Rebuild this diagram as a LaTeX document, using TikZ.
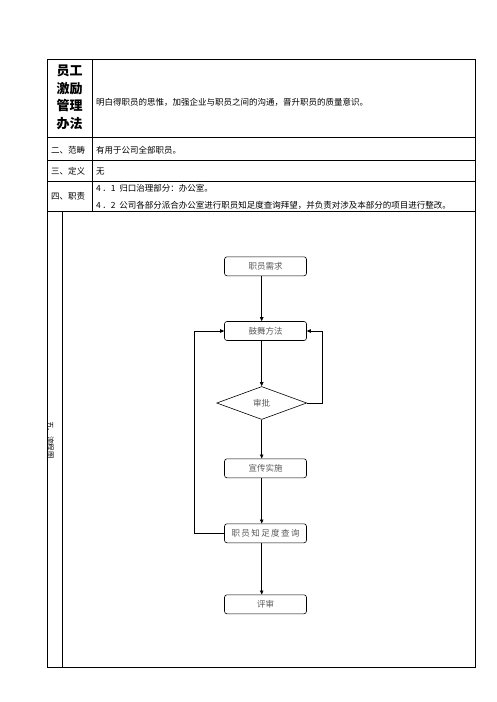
\documentclass[tikz,border=0pt]{standalone}
\usepackage{fontspec}
\setmainfont{Noto Sans CJK SC}
\newfontfamily\cjk{Noto Sans CJK SC}
\usetikzlibrary{shapes.geometric}
\usetikzlibrary{arrows.meta}

\tikzset{
  grid line/.style={line width=0.8pt},
  cell text/.style={anchor=west, inner sep=0pt, font=\cjk\fontsize{8.5pt}{10pt}\selectfont},
  head text/.style={inner sep=0pt, font=\cjk\fontsize{8.5pt}{10pt}\selectfont},
  flow box/.style={draw, line width=0.6pt, rounded corners=2.5pt, minimum width=82pt, minimum height=19pt,
    inner sep=0pt, text=black!65, font=\cjk\fontsize{8.5pt}{10pt}\selectfont},
  flow check/.style={draw, line width=0.6pt, diamond, minimum width=90pt, minimum height=33pt,
    inner sep=0pt, text=black!65, font=\cjk\fontsize{8.5pt}{10pt}\selectfont},
  flow arrow/.style={line width=0.6pt, -{Triangle[length=4pt,width=3.5pt]}}
}

\begin{document}
\begin{tikzpicture}[x=1pt, y=-1pt]

 % page size
 \useasboundingbox (0,0) rectangle (496,702);

 % outer frame and rows of the table
 \draw [grid line] (47,59) rectangle (475,667);
 \draw [grid line] (47,137) -- (475,137);
 \draw [grid line] (47,160) -- (475,160);
 \draw [grid line] (47,181) -- (475,181);
 \draw [grid line] (47,211) -- (475,211);

 % column dividers
 \draw [grid line] (92,59) -- (92,211);
 \draw [grid line] (62,211) -- (62,667);

 % title cell
 \node (title) [align=center, inner sep=0pt, font=\cjk\bfseries\fontsize{13pt}{17.5pt}\selectfont]
   at (69.5,97.5) {员工\\激励\\管理\\办法};
 \node (aim) [cell text] at (96,102) {明白得职员的思惟，加强企业与职员之间的沟通，晋升职员的质量意识。};

 % scope row
 \node (scopehead) [head text] at (68,150.5) {二、范畴};
 \node (scopetext) [cell text] at (96,150.5) {有用于公司全部职员。};

 % definition row
 \node (defhead) [head text] at (68,171.5) {三、定义};
 \node (deftext) [cell text] at (96,171.5) {无};

 % duty row
 \node (dutyhead) [head text] at (68,196.5) {四、职责};
 \node (dutyone) [cell text] at (96,188.5) {4\,．1\ \ 归口治理部分：办公室。};
 \node (dutytwo) [cell text] at (96,205.5) {4\,．2\ \ 公司各部分派合办公室进行职员知足度查询拜望，并负责对涉及本部分的项目进行整改。};

 % flow row label (turned)
 \node (flowhead) [inner sep=0pt, rotate=-90, font=\cjk\fontsize{7.5pt}{8pt}\selectfont] at (50.5,440) {五、流程图};

 % flow chart steps
 \node (need) [flow box] at (265.5,266.3) {职员需求};
 \node (method) [flow box] at (265.5,331) {鼓舞方法};
 \node (check) [flow check] at (261.7,403) {审批};
 \node (carry) [flow box] at (265.5,468.3) {宣传实施};
 \node (survey) [flow box] at (265.5,533.3) {职\,员\,知\,足\,度\,查\,询};
 \node (review) [flow box] at (265.5,604.3) {评审};

 % straight arrows down the chart
 \draw [flow arrow] (need.south -| check.north) -- (method.north -| check.north);
 \draw [flow arrow] (method.south -| check.north) -- (check.north);
 \draw [flow arrow] (check.south) -- (carry.north -| check.south);
 \draw [flow arrow] (carry.south -| check.south) -- (survey.north -| check.south);
 \draw [flow arrow] (survey.south -| check.south) -- (review.north -| check.south);

 % loop back from the check
 \coordinate (backright) at (322.3,403);
 \draw [flow arrow] (check.east) -- (backright) |- (method.east);

 % loop back from the survey
 \coordinate (backleft) at (194,533.3);
 \draw [flow arrow] (survey.west) -- (backleft) |- (method.west);

\end{tikzpicture}
\end{document}
